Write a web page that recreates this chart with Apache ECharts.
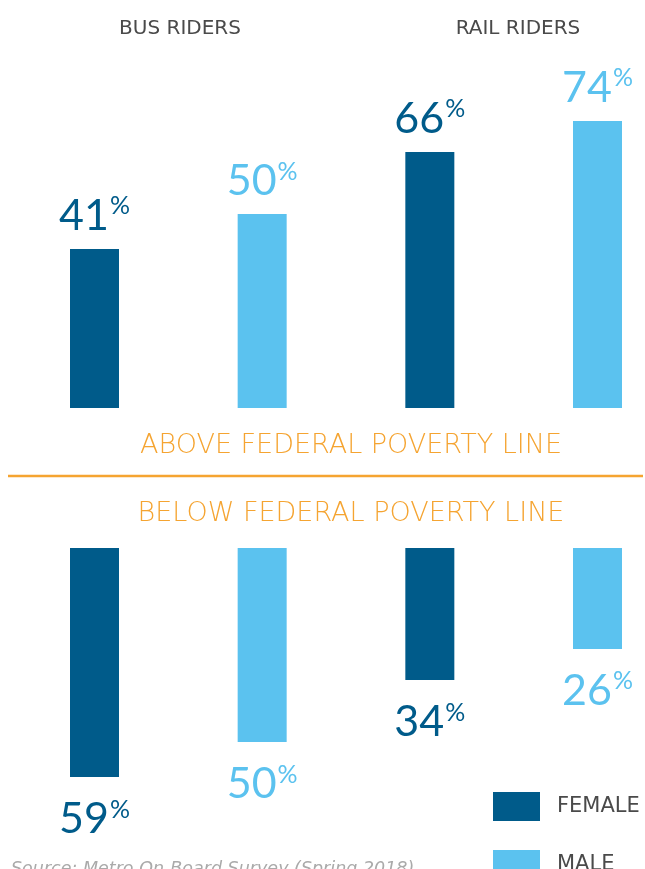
<!DOCTYPE html>
<html>
<head>
<meta charset="utf-8">
<script src="https://cdn.jsdelivr.net/npm/echarts@6/dist/echarts.min.js"></script>
<style>
  html, body { margin: 0; padding: 0; background: #fff; }
  #chart { width: 645px; height: 869px; }
</style>
</head>
<body>
<div id="chart"></div>
<script>
// categories: female/male for bus, then rail
var categories = ['Bus Female', 'Bus Male', 'Rail Female', 'Rail Male'];
var aboveFemale = [41, '-', 66, '-'];
var aboveMale = ['-', 50, '-', 74];
var belowFemale = [59, '-', 34, '-'];
var belowMale = ['-', 50, '-', 26];

var DARK = '#005b8a';
var LIGHT = '#5bc2ef';
var ORANGE = '#f5a431';
var NUMFONT = 'Lato, "Open Sans", sans-serif';
var FONT = '"DejaVu Sans", sans-serif';

function pctLabel(color, pos) {
  return {
    show: true,
    position: pos,
    distance: pos === 'top' ? 11 : 20,
    formatter: '{n|{c}}{p|%}',
    rich: {
      n: { fontSize: 43, lineHeight: 44, color: color, fontFamily: NUMFONT, fontWeight: 400 },
      p: { fontSize: 25, lineHeight: 22, color: color, fontFamily: NUMFONT, verticalAlign: 'top', padding: [0, 0, 0, 1] }
    }
  };
}

function barSeries(name, data, color, idx, pos) {
  return {
    name: name,
    type: 'bar',
    stack: 'g' + idx,
    xAxisIndex: idx,
    yAxisIndex: idx,
    barWidth: 49,
    data: data,
    itemStyle: { color: color },
    label: pctLabel(color, pos),
    emphasis: { disabled: true },
    animation: false
  };
}

var chart = echarts.init(document.getElementById('chart'));

var legendText = { fontSize: 21, color: '#4a4a4a', fontFamily: FONT, padding: [0, 0, 0, 12] };

chart.setOption({
  backgroundColor: '#fff',
  title: [
    { text: 'BUS RIDERS', left: 175, top: 14, textAlign: 'center',
      textStyle: { fontSize: 20, fontWeight: 'normal', color: '#4a4a4a', fontFamily: FONT } },
    { text: 'RAIL RIDERS', left: 513, top: 14, textAlign: 'center',
      textStyle: { fontSize: 20, fontWeight: 'normal', color: '#4a4a4a', fontFamily: FONT } },
    { text: 'ABOVE FEDERAL POVERTY LINE', left: 346, top: 427, textAlign: 'center',
      textStyle: { fontSize: 27, fontWeight: 200, color: ORANGE, fontFamily: FONT } },
    { text: 'BELOW FEDERAL POVERTY LINE', left: 346, top: 495, textAlign: 'center',
      textStyle: { fontSize: 27, fontWeight: 200, color: ORANGE, fontFamily: FONT } },
    { text: 'Source: Metro On-Board Survey (Spring 2018)', left: 6, top: 855,
      textStyle: { fontSize: 17.5, fontWeight: 200, fontStyle: 'italic', color: '#aaa', fontFamily: FONT } }
  ],
  legend: [
    { data: ['FEMALE'], left: 488, top: 787, icon: 'rect', itemWidth: 47, itemHeight: 29,
      selectedMode: false, textStyle: legendText },
    { data: ['MALE'], left: 488, top: 845, icon: 'rect', itemWidth: 47, itemHeight: 29,
      selectedMode: false, textStyle: legendText }
  ],
  grid: [
    { left: 94.5, right: 47.5, top: 20, height: 388 },
    { left: 94.5, right: 47.5, top: 548, bottom: 0 }
  ],
  xAxis: [
    { type: 'category', gridIndex: 0, data: categories, boundaryGap: false, show: false },
    { type: 'category', gridIndex: 1, data: categories, boundaryGap: false, show: false }
  ],
  yAxis: [
    { type: 'value', gridIndex: 0, min: 0, max: 100, show: false },
    // lower panel is cut by the canvas edge: 321px tall at the same 3.88px per point
    { type: 'value', gridIndex: 1, min: 0, max: 82.7, inverse: true, show: false }
  ],
  graphic: [
    { type: 'line', shape: { x1: 8, y1: 476, x2: 643, y2: 476 },
      style: { stroke: ORANGE, lineWidth: 2.5 } }
  ],
  series: [
    barSeries('FEMALE', aboveFemale, DARK, 0, 'top'),
    barSeries('MALE', aboveMale, LIGHT, 0, 'top'),
    barSeries('FEMALE', belowFemale, DARK, 1, 'bottom'),
    barSeries('MALE', belowMale, LIGHT, 1, 'bottom')
  ]
});
</script>
</body>
</html>
